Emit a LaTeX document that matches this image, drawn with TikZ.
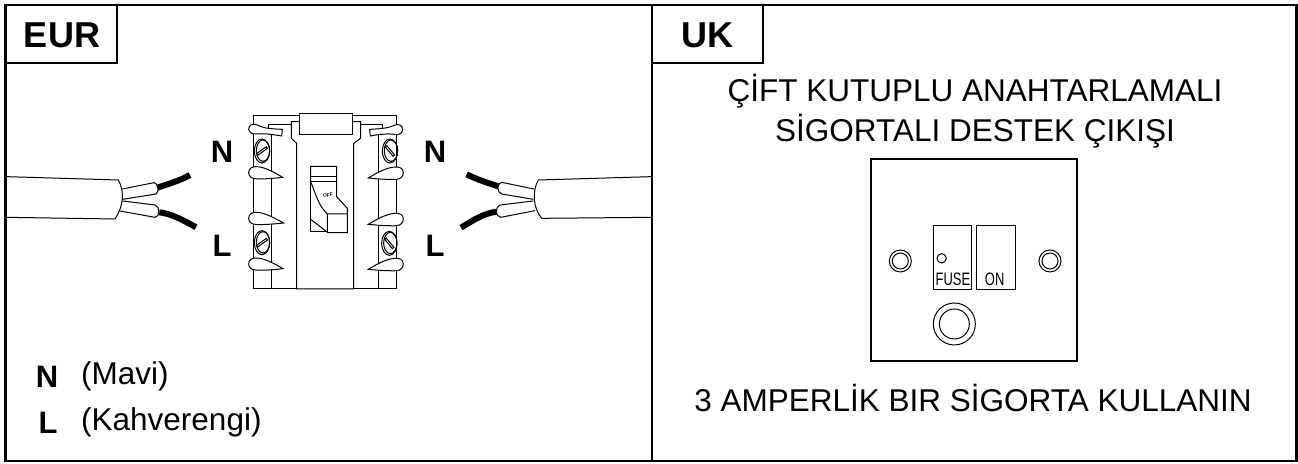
\documentclass[tikz,border=0pt]{standalone}
\usepackage{fontspec}
\setmainfont{Liberation Sans}
\newcommand*{\termscrew}[4]{%
\draw[thin] (#1,#2) ellipse[x radius=23, y radius=36];
\draw[thin] (#1,#2) ++(3,-1) ellipse[x radius=20, y radius=32];
\draw[thin, rotate around={#3:(#1,#2)}] ([xshift=-#4*0.3333pt, yshift=-1pt]#1,#2) rectangle ([xshift=#4*0.3333pt, yshift=1pt]#1,#2);}
\tikzset{
  panel/.style={line width=2.6pt},
  thin/.style={line width=1pt},
  wire/.style={line width=6pt},
  hdr/.style={font=\bfseries\fontsize{36}{36}\selectfont, inner sep=0pt},
  pole/.style={font=\bfseries\fontsize{31}{31}\selectfont, inner sep=0pt},
  caption/.style={font=\fontsize{31.5}{31.5}\selectfont, inner sep=0pt},
}
\begin{document}
\begin{tikzpicture}[x=1pt, y=-1pt]
\useasboundingbox (0,0) rectangle (1298,463);
\fill[white] (0,0) rectangle (1298,463);

% outer frame and header boxes
\draw[panel] (5.5,5) rectangle (1296.5,461);
\draw[panel] (652,5) -- (652,461);
\draw[panel] (5.5,63) -- (117,63) -- (117,5);
\draw[panel] (652,63) -- (763,63) -- (763,5);
\node[hdr] (eur) at (62,35) {EUR};
\node[hdr] (uk) at (707,35) {UK};

% left cable
\begin{scope}[shift={(0,140)}, x=0.3333pt, y=-0.3333pt]
\draw[wire] (472,143) .. controls (510,130) and (540,122) .. (570,105);
\draw[wire] (478,217) .. controls (510,220) and (550,240) .. (588,262);
\draw[thin, fill=white] (367,147) -- (462,128) .. controls (472,128) and (480,155) .. (468,162) -- (368,178);
\draw[thin, fill=white] (368,183) -- (465,195) .. controls (482,200) and (480,232) .. (465,232) -- (360,213);
\draw[thin] (20,110) -- (355,120) .. controls (375,155) and (370,200) .. (345,237) -- (20,232);
\end{scope}

% right cable
\begin{scope}[shift={(450,140)}, x=0.3333pt, y=-0.3333pt]
\draw[wire] (148,140) .. controls (110,128) and (80,118) .. (50,103);
\draw[wire] (143,215) .. controls (105,218) and (70,240) .. (33,263);
\draw[thin, fill=white] (252,147) -- (155,127) .. controls (140,130) and (140,158) .. (155,162) -- (250,178);
\draw[thin, fill=white] (250,183) -- (150,195) .. controls (135,200) and (135,230) .. (152,232) -- (255,212);
\draw[thin] (603,110) -- (265,120) .. controls (245,155) and (250,205) .. (275,235) -- (603,232);
\end{scope}

% switch
\begin{scope}[shift={(190,90)}, x=0.3333pt, y=-0.3333pt]
\draw[thin] (191,597) rectangle (620,78);
\draw[thin] (244,118) -- (244,597);
\draw[thin] (565,118) -- (565,597);
\draw[thin] (235,118) -- (235,103) -- (304,103);
\draw[thin] (578,118) -- (578,103) -- (512,103);
\draw[thin, fill=white] (320,597) -- (320,160) -- (304,145) -- (304,95) -- (512,95) -- (512,145) -- (491,160) -- (491,597) -- cycle;
\draw[thin, fill=white] (328,70) rectangle (488,135);
\termscrew{216}{183}{35}{18}
\termscrew{216}{458}{35}{18}
\termscrew{600}{183}{-50}{18}
\termscrew{598}{460}{-50}{18}
% lobes
\foreach \yy/\tip in {248/102, 385/105, 522/103}
  \draw[thin, fill=white, shift={(176,\yy)}] (0,0) .. controls (0,-14) and (12,-19) .. (26,-18) .. controls (50,-16) and (75,-2) .. (\tip,14) .. controls (70,18) and (30,20) .. (20,18) .. controls (8,18) and (0,10) .. (0,0) -- cycle;
\foreach \yy/\tip in {248/-105, 387/-105, 522/-105}
  \draw[thin, fill=white, shift={(640,\yy)}] (0,0) .. controls (0,-14) and (-12,-18) .. (-26,-17) .. controls (-50,-15) and (-75,-2) .. (\tip,16) .. controls (-70,20) and (-30,21) .. (-20,20) .. controls (-8,20) and (0,10) .. (0,0) -- cycle;
\draw[thin, fill=white] (176,118) .. controls (176,105) and (188,100) .. (200,104) .. controls (215,112) and (225,116) .. (277,118) -- (275,138) .. controls (240,132) and (220,130) .. (195,132) .. controls (184,132) and (176,126) .. (176,118) -- cycle;
\draw[thin, fill=white] (638,118) .. controls (638,106) and (626,100) .. (612,106) .. controls (600,112) and (585,116) .. (539,118) -- (541,138) .. controls (570,132) and (600,130) .. (620,134) .. controls (630,134) and (638,128) .. (638,118) -- cycle;
% rocker
\draw[thin] (362,275) -- (362,229) -- (440,229) -- (440,320) -- (472,355) -- (472,428) -- (412,428) -- (412,372) -- (472,372);
\draw[thin] (362,259) -- (440,259);
\draw[thin] (362,275) -- (440,275);
\draw[thin] (362,275) -- (362,425) -- (410,425);
\draw[thin] (362,275) .. controls (380,320) and (385,345) .. (412,372);
\draw[thin] (362,388) -- (410,425);
\node[font=\bfseries\fontsize{5}{5}\selectfont, rotate=10, inner sep=0pt] (off) at (414,316) {OFF};
\end{scope}

\node[pole] (nl) at (222,152) {N};
\node[pole] (ll) at (222,246) {L};
\node[pole] (nr) at (435,152) {N};
\node[pole] (lr) at (435,246) {L};

\node[pole] (keyn) at (47,377) {N};
\node[pole] (keyl) at (48,423) {L};
\node[caption, anchor=west] (mavi) at (81,376) {(Mavi)};
\node[caption, anchor=west] (kahve) at (81,422) {(Kahverengi)};

% UK panel
\node[caption] (capa) at (975,91) {ÇİFT KUTUPLU ANAHTARLAMALI};
\node[caption] (capb) at (975,131) {SİGORTALI DESTEK ÇIKIŞI};
\node[caption] (capc) at (973,398) {3 AMPERLİK BIR SİGORTA KULLANIN};

\draw[line width=2pt] (871,159) rectangle (1077,361);
\begin{scope}[shift={(860,170)}, x=0.3333pt, y=-0.3333pt]
\draw[thin] (219,166) rectangle (335,360);
\draw[thin] (349,166) rectangle (466,360);
\draw[thin] (245,265) circle[radius=14];
\foreach \xx in {121,570} {
  \draw[thin] (\xx,273) circle[radius=33];
  \draw[thin] (\xx,273) circle[radius=24];
}
\draw[thin] (283,462) circle[radius=63];
\draw[thin] (283,462) circle[radius=45];
\node[inner sep=0pt, font=\fontsize{18}{18}\selectfont, xscale=0.72] (fuse) at (279,329) {FUSE};
\node[inner sep=0pt, font=\fontsize{18}{18}\selectfont, xscale=0.72] (on) at (404,329) {ON};
\end{scope}
\end{tikzpicture}
\end{document}
